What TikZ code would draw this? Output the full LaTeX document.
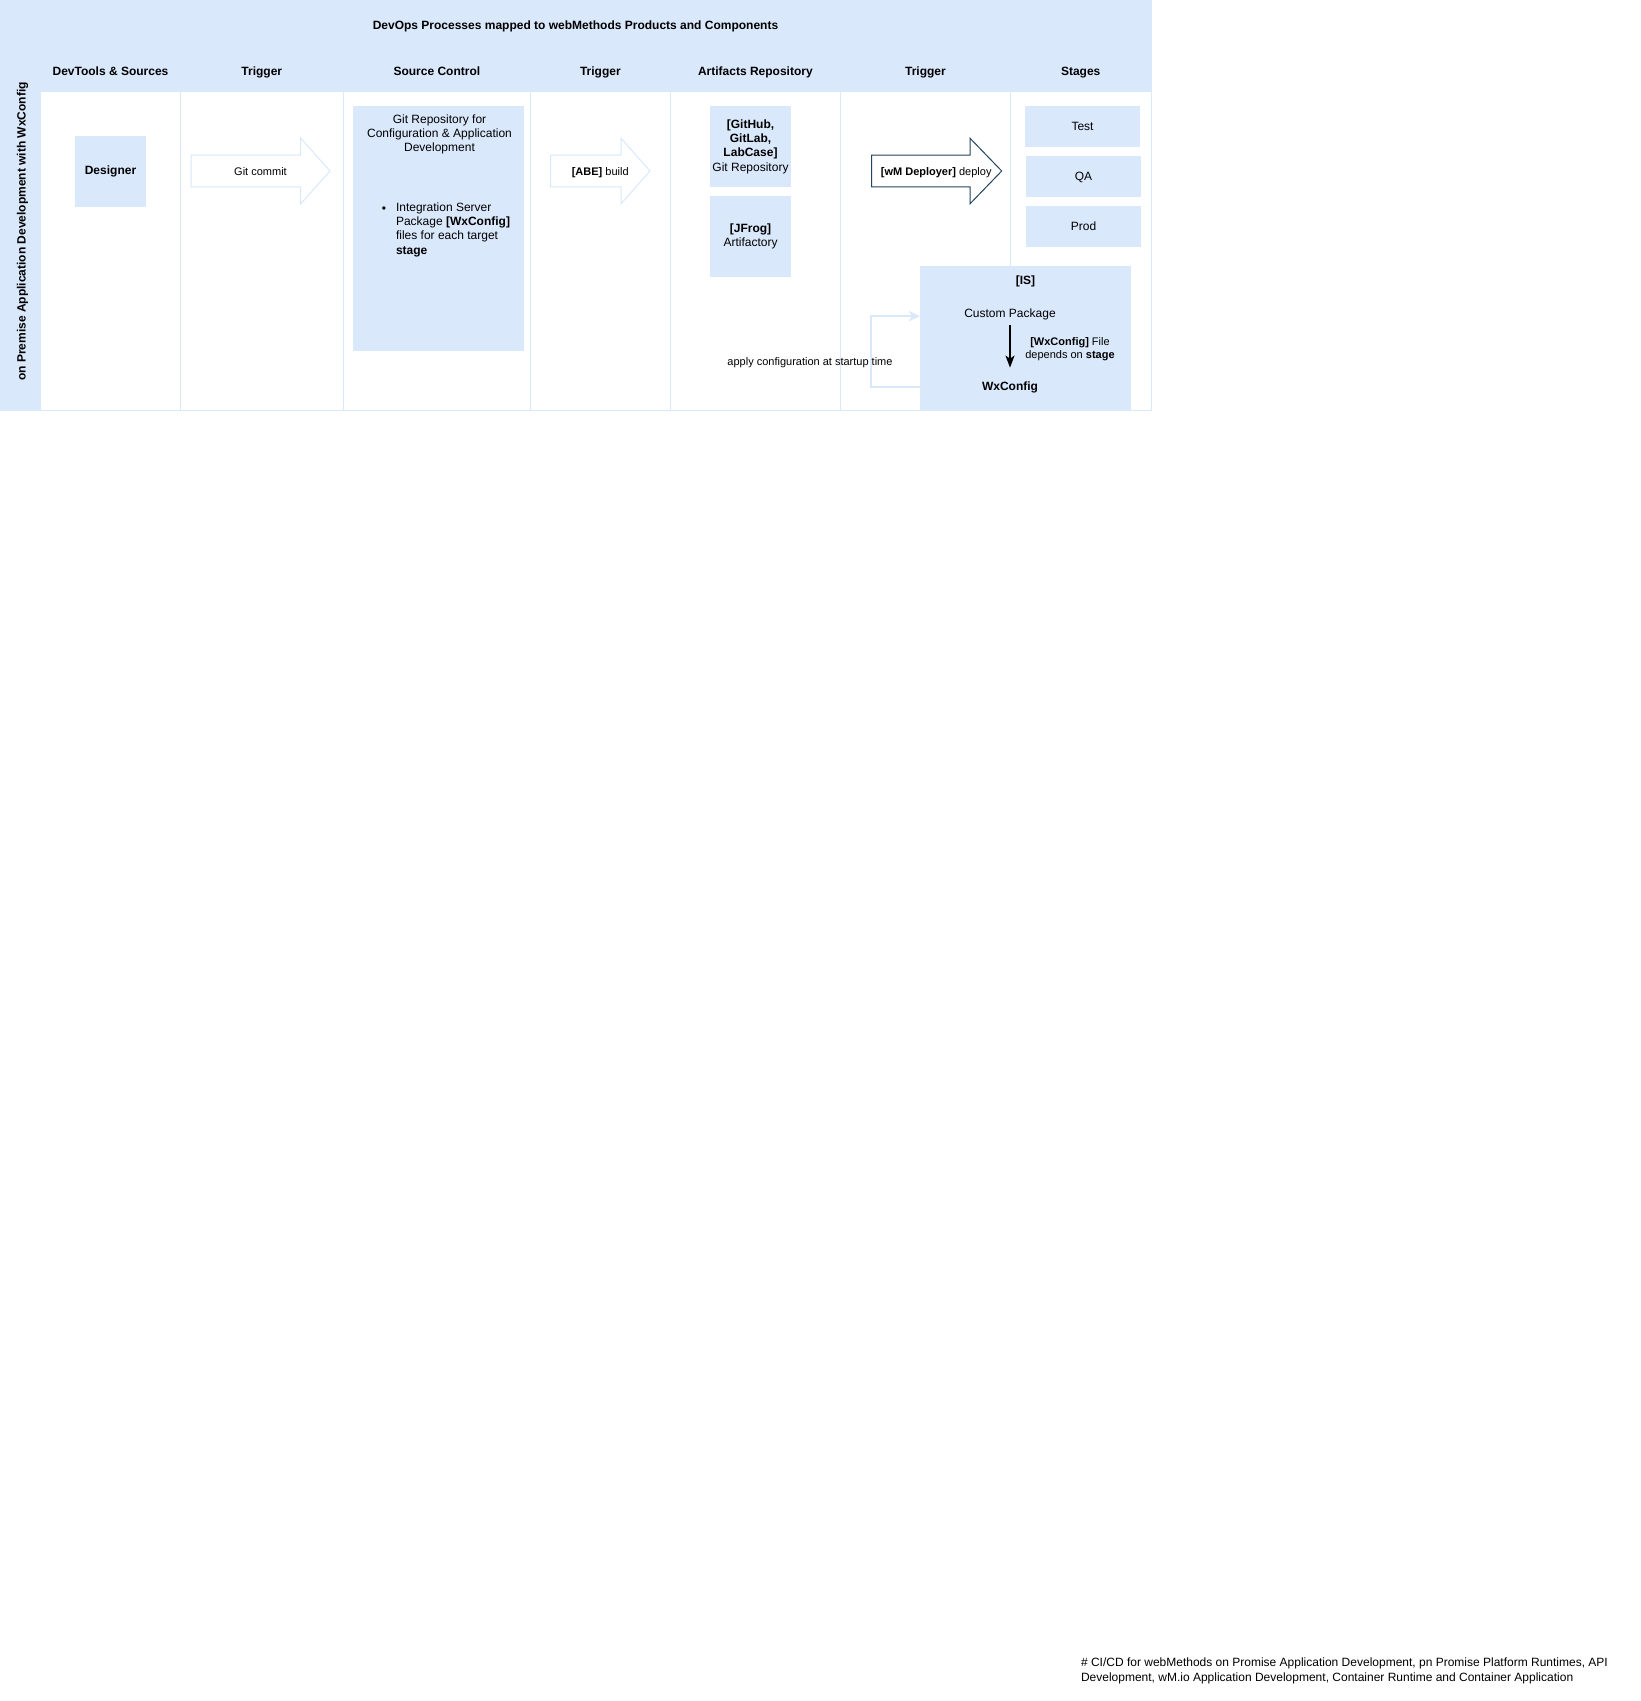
\documentclass[tikz,border=0pt]{standalone}
\usepackage{fontspec}
\setmainfont{Liberation Sans}
\usetikzlibrary{arrows.meta}
\definecolor{lanefill}{HTML}{DAE8FC}
\definecolor{deployline}{HTML}{23445D}

% block arrow: style, tail x, head base x, tip x (shared vertical placement)
\newcommand\blockarrow[4]{%
  \draw[#1] (#2,155.2) -- (#3,155.2) -- (#3,138.2) -- (#4,171) -- (#3,203.8)
    -- (#3,186.8) -- (#2,186.8) -- cycle;}

\begin{document}
\begin{tikzpicture}[x=1pt,y=-1pt,
  every node/.style={inner sep=0pt, outer sep=0pt},
  fs12/.style={font=\fontsize{12pt}{14.4pt}\selectfont},
  fs12b/.style={font=\fontsize{12pt}{14.4pt}\selectfont\bfseries},
  fs11/.style={font=\fontsize{11pt}{13.5pt}\selectfont},
  oneline/.style={text height=8.7pt, text depth=2.5pt},
  pool/.style={fill=lanefill, draw=lanefill, line width=1pt, anchor=north west},
  lane/.style={draw=lanefill, fill=white, line width=1pt, anchor=north west,
    minimum height=319.5pt},
  hdr/.style={fs12b, oneline},
  box/.style={fill=lanefill, draw=none, anchor=north west, align=center},
  ghost/.style={draw=lanefill, fill=white, line width=1pt, line join=miter},
  deployarrow/.style={draw=deployline, fill=white, line width=1pt, line join=miter},
  feedback/.style={draw=lanefill, line width=2pt,
    -{Stealth[length=11pt, width=10pt, inset=3pt]}},
  dependency/.style={draw=black, line width=1.5pt,
    -{Stealth[length=12pt, width=9pt, inset=3pt]}}
]
\useasboundingbox (0,0) rectangle (1641,1701);

% pool with title band and vertical lane label
\node[pool, minimum width=1151pt, minimum height=410.5pt] (pool) at (0,0) {};
\node[fs12b, oneline] (title) at (575.5,26.8)
  {DevOps Processes mapped to webMethods Products and Components};
\node[fs12b, oneline, rotate=90] (lanelabel) at (22.5,231.5)
  {on Premise Application Development with WxConfig};

% columns
\node[lane, minimum width=139.6pt] (c1) at (40.7,91) {};
\node[lane, minimum width=163pt]   (c2) at (180.3,91) {};
\node[lane, minimum width=187.1pt] (c3) at (343.3,91) {};
\node[lane, minimum width=139.9pt] (c4) at (530.4,91) {};
\node[lane, minimum width=170.2pt] (c5) at (670.3,91) {};
\node[lane, minimum width=169.9pt] (c6) at (840.5,91) {};
\node[lane, minimum width=140.6pt] (c7) at (1010.4,91) {};

\node[hdr] (h1) at ([yshift=19pt]c1.north) {DevTools \& Sources};
\node[hdr] (h2) at ([yshift=19pt]c2.north) {Trigger};
\node[hdr] (h3) at ([yshift=19pt]c3.north) {Source Control};
\node[hdr] (h4) at ([yshift=19pt]c4.north) {Trigger};
\node[hdr] (h5) at ([yshift=19pt]c5.north) {Artifacts Repository};
\node[hdr] (h6) at ([yshift=19pt]c6.north) {Trigger};
\node[hdr] (h7) at ([yshift=19pt]c7.north) {Stages};

% dev tools
\node[box, fs12b, oneline, minimum width=71pt, minimum height=71pt] (designer) at (75,136) {Designer};

% triggers
\blockarrow{ghost}{191}{300.7}{330}
\node[fs11, oneline] (commit) at (260.5,172) {Git commit};
\blockarrow{ghost}{550.5}{621}{650}
\node[fs11, oneline] (build) at (600.2,172) {\textbf{[ABE]} build};
\blockarrow{deployarrow}{871.7}{970}{1001.7}
\node[fs11, oneline] (deploy) at (936.2,172) {\textbf{[wM Deployer]} deploy};

% source control
\node[box, minimum width=171pt, minimum height=244.7pt] (gitrepo) at (353,106) {};
\node[fs12, align=center] (gitrepotxt) at (439.5,134.4)
  {Git Repository for\\Configuration \& Application\\Development};
\node[fs12] (bullet) at (384,209.3) {•};
\node[fs12, align=left, anchor=west] (islist) at (396,229.6)
  {Integration Server\\Package \textbf{[WxConfig]}\\files for each target\\\textbf{stage}};

% artifacts repository
\node[box, fs12, minimum width=81pt, minimum height=81pt] (github) at (710,106)
  {\textbf{[GitHub,}\\\textbf{GitLab,}\\\textbf{LabCase]}\\Git Repository};
\node[box, fs12, minimum width=81pt, minimum height=81pt] (jfrog) at (710,196)
  {\textbf{[JFrog]}\\Artifactory};

% stages
\node[box, minimum width=115pt, minimum height=40.7pt] (test) at (1025,106) {};
\node[box, minimum width=115pt, minimum height=40.7pt] (qa)   at (1026,156) {};
\node[box, minimum width=115pt, minimum height=40.7pt] (prod) at (1026,206) {};
\node[fs12, oneline] (testlbl) at ([yshift=-1pt]test.center) {Test};
\node[fs12, oneline] (qalbl)   at ([yshift=-1pt]qa.center) {QA};
\node[fs12, oneline] (prodlbl) at ([yshift=-1pt]prod.center) {Prod};

% integration server runtime
\node[box, minimum width=211pt, minimum height=144.7pt] (is) at (920,266) {};
\node[fs12b, oneline] (istitle) at (1025.5,281.2) {[IS]};
\node[fs12, oneline] (custompkg) at (1010,314.2) {Custom Package};
\node[fs12b, oneline] (wxcfg) at (1010,387.2) {WxConfig};
\node[fs11, align=center] (dependsnote) at (1070,349.2)
  {\textbf{[WxConfig]} File\\depends on \textbf{stage}};
\draw[dependency] ([yshift=-5pt]custompkg.south) -- ([yshift=14pt]wxcfg.north);

% configuration applied at startup
\draw[feedback] (is.west |- wxcfg) -- ++(-49.3,0) |- ([yshift=-2pt]is.west |- custompkg);
\node[fs11, oneline] (applylbl) at (810,362.2) {apply configuration at startup time};

% caption
\node[fs12, align=left, anchor=west] (caption) at (1081,1671)
  {\# CI/CD for webMethods on Promise Application Development, pn Promise Platform Runtimes, API\\
   Development, wM.io Application Development, Container Runtime and Container Application};
\end{tikzpicture}
\end{document}
